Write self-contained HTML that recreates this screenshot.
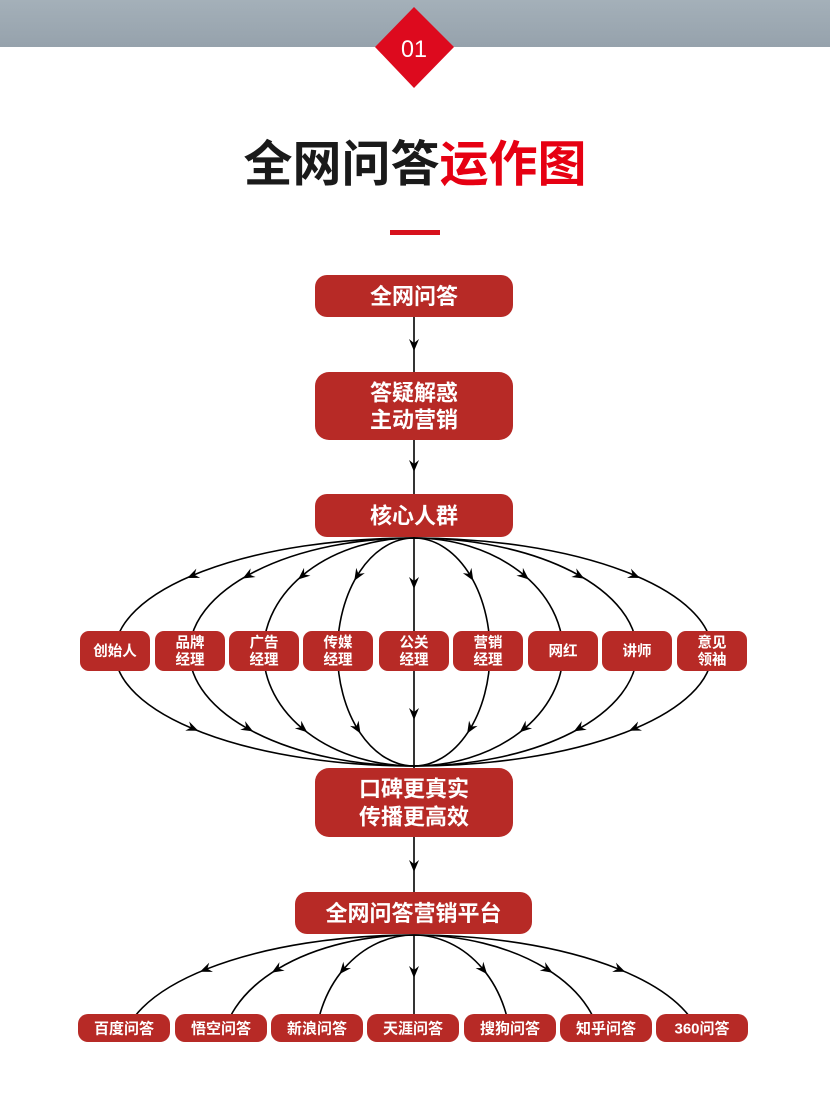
<!DOCTYPE html>
<html><head><meta charset="utf-8">
<style>
html,body{margin:0;padding:0;background:#fff;width:830px;height:1096px;overflow:hidden;}
body{position:relative;font-family:"Liberation Sans","Noto Sans CJK SC",sans-serif;}
.band{position:absolute;left:0;top:0;width:830px;height:47px;background:linear-gradient(#a4b0b9,#96a2ac);}
.title{position:absolute;left:0;top:130px;width:830px;text-align:center;font-size:49px;font-weight:bold;color:#1a1a1a;line-height:70px;}
.title span{color:#e60012;}
.bar{position:absolute;left:390px;top:230px;width:50px;height:5px;background:#d7121d;}
svg{position:absolute;left:0;top:0;}
</style></head><body>
<div class="band"></div>
<svg width="830" height="120" style="z-index:2">
<polygon points="414,7 454,47 414,88 375,47" fill="#dd0a1e"/>
<text x="414" y="57" fill="#fff" font-family="Liberation Sans, sans-serif" font-size="24" text-anchor="middle" textLength="26" lengthAdjust="spacingAndGlyphs">01</text>
</svg>
<div class="title">全网问答<span>运作图</span></div>
<div class="bar"></div>
<svg id="d" width="830" height="1096"></svg>
<script>
var NS="http://www.w3.org/2000/svg",S=document.getElementById('d');
function el(t,a,txt,p){var e=document.createElementNS(NS,t);for(var k in a)e.setAttribute(k,a[k]);if(txt)e.textContent=txt;(p||S).appendChild(e);return e;}
var defs=el('defs',{});var cp=el('clipPath',{id:'c1'},null,defs);el('rect',{x:0,y:900,width:830,height:116},null,cp);
function arrow(x,y,dx,dy){var l=Math.hypot(dx,dy);dx/=l;dy/=l;var px=-dy,py=dx;
 var tip=[x+dx*6,y+dy*6],b1=[x-dx*6+px*5,y-dy*6+py*5],b2=[x-dx*6-px*5,y-dy*6-py*5],m=[x-dx*2,y-dy*2];
 el('polygon',{points:[tip,b1,m,b2].map(function(p){return p.join(',')}).join(' '),fill:'#000'});}
function vline(x,y1,y2,ays){el('line',{x1:x,y1:y1,x2:x,y2:y2,stroke:'#000','stroke-width':1.6});ays.forEach(function(a){arrow(x,a,0,1);});}
vline(414,317,372,[345]);vline(414,440,494,[466]);vline(414,837,892,[866]);
vline(414,537,768,[583,714]);
var cy=652,ry=114,cs=[115,189.5,263.5,337.5,490,563,637,712];
cs.forEach(function(c){var rx=Math.abs(414-c);var s=c<414?-1:1;
 var sw=s<0?0:1;
 el('path',{d:'M414,'+(cy-ry)+' A'+rx+','+ry+' 0 0 '+sw+' 414,'+(cy+ry),fill:'none',stroke:'#000','stroke-width':1.6});
 var co=0.74,si=0.67;
 var x=414+s*rx*co,y=cy-ry*si; arrow(x,y,s*rx*si,ry*co);
 y=cy+ry*si; arrow(x,y,-s*rx*si,ry*co);
});
var g=el('g',{'clip-path':'url(#c1)'});
var cy2=1050,ry2=115;
[[292,-1],[192,-1],[99,-1],[97,1],[187,1],[288,1]].forEach(function(p){var rx=p[0],s=p[1];
 var sw=s<0?0:1;
 el('path',{d:'M414,'+(cy2-ry2)+' A'+rx+','+ry2+' 0 0 '+sw+' '+(414+s*rx)+','+cy2,fill:'none',stroke:'#000','stroke-width':1.6},null,g);
 var si=0.7,co=0.714;arrow(414+s*rx*co,cy2-ry2*si,s*rx*si,ry2*co);
});
vline(414,935,1014,[972]);
function box(x,y,w,h,rr,lines,fs,lh){el('rect',{x:x,y:y,width:w,height:h,rx:rr,fill:'#b72a26'});
 var n=lines.length,y0=y+h/2-(n-1)*lh/2+fs*0.36;
 lines.forEach(function(t,i){el('text',{x:x+w/2,y:y0+i*lh,fill:'#fff','font-size':fs,'font-weight':'bold','text-anchor':'middle','font-family':'Liberation Sans, Noto Sans CJK SC, sans-serif'},t);});}
box(315,275,198,42,12,['全网问答'],22,26);
box(315,372,198,68,14,['答疑解惑','主动营销'],22,27);
box(315,494,198,43,12,['核心人群'],22,26);
var mid=[['创始人'],['品牌','经理'],['广告','经理'],['传媒','经理'],['公关','经理'],['营销','经理'],['网红'],['讲师'],['意见','领袖']];
var mx=[80,155,229,303,379,453,528,602,677];
mid.forEach(function(t,i){box(mx[i],631,70,40,9,t,14.5,17);});
box(315,768,198,69,14,['口碑更真实','传播更高效'],22,28);
box(295,892,237,42,12,['全网问答营销平台'],22,26);
var bl=['百度问答','悟空问答','新浪问答','天涯问答','搜狗问答','知乎问答','360问答'],bx=[78,175,271,367,464,560,656];
bl.forEach(function(t,i){box(bx[i],1014,92,28,10,[t],15,16);});
</script>
</body></html>
